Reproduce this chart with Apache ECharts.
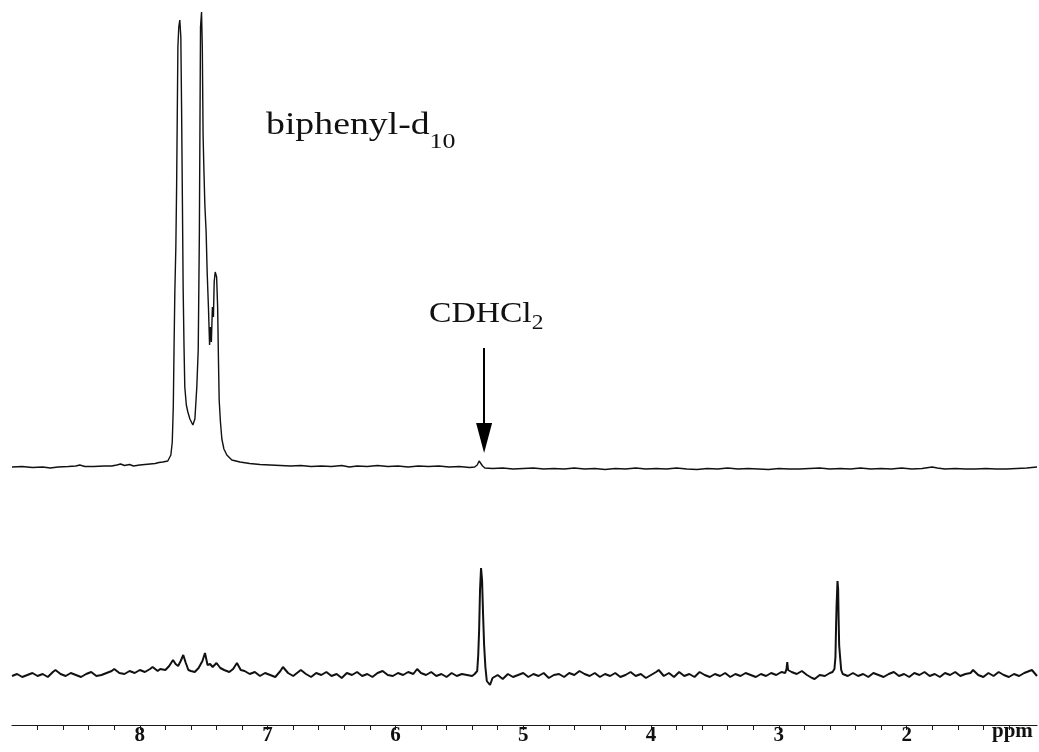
<!DOCTYPE html>
<html>
<head>
<meta charset="utf-8">
<script src="https://cdn.jsdelivr.net/npm/echarts@6/dist/echarts.min.js"></script>
<style>
  html, body { margin: 0; padding: 0; background: #fff; }
  #chart { width: 1039px; height: 752px; }
</style>
</head>
<body>
<div id="chart"></div>
<script>
// 1H NMR traces: chemical shift (ppm) and relative intensity above each baseline.

// Upper trace: biphenyl-d10 in CD2Cl2
const upperTrace = [
  [9.00, 0], [8.92, 0.5], [8.84, -0.5], [8.76, 0], [8.70, -1], [8.64, 0], [8.56, 0.5],
  [8.50, 1], [8.47, 2], [8.43, 0.5], [8.36, 0.5], [8.28, 1], [8.22, 1], [8.18, 2],
  [8.15, 3], [8.12, 1.5], [8.08, 2.5], [8.05, 1], [8.00, 2], [7.96, 2.5], [7.92, 3],
  [7.88, 3.5], [7.85, 4.5], [7.82, 5], [7.781, 6], [7.757, 12], [7.746, 25],
  [7.738, 60], [7.732, 120], [7.726, 174], [7.718, 220], [7.712, 280], [7.707, 350],
  [7.702, 420], [7.695, 440], [7.687, 447], [7.679, 430], [7.673, 357], [7.667, 270],
  [7.661, 180], [7.654, 120], [7.648, 80], [7.636, 62], [7.624, 55], [7.608, 48],
  [7.585, 42], [7.569, 48], [7.561, 50], [7.554, 80], [7.543, 117], [7.538, 180],
  [7.534, 233], [7.529, 350], [7.525, 440], [7.517, 455], [7.511, 420], [7.505, 333],
  [7.499, 300], [7.491, 262], [7.481, 235], [7.473, 195], [7.463, 160], [7.454, 122],
  [7.448, 140], [7.440, 125], [7.432, 160], [7.424, 150], [7.418, 185], [7.410, 195],
  [7.399, 190], [7.391, 160], [7.385, 110], [7.379, 67], [7.369, 45], [7.358, 28],
  [7.342, 18], [7.319, 12], [7.280, 7], [7.217, 5], [7.14, 3.5], [7.06, 2.5],
  [6.98, 2], [6.90, 1.5], [6.82, 1], [6.74, 1.5], [6.66, 0.5], [6.58, 1], [6.50, 0.5],
  [6.42, 1.5], [6.36, 0], [6.30, 1], [6.22, 0.5], [6.14, 1.5], [6.06, 0.5], [5.98, 1],
  [5.90, 0], [5.82, 1], [5.74, 0.5], [5.66, 1], [5.58, 0], [5.50, 0.5], [5.42, -0.5],
  [5.38, 0], [5.36, 2], [5.345, 6], [5.338, 8], [5.330, 6], [5.318, 1], [5.30, -1],
  [5.24, -1.5], [5.16, -1], [5.08, -2], [5.00, -1.5], [4.92, -1], [4.84, -2],
  [4.76, -1.5], [4.68, -2], [4.60, -1], [4.52, -2], [4.44, -1.5], [4.36, -2.5],
  [4.28, -1.5], [4.20, -2], [4.12, -1], [4.04, -2], [3.96, -1.5], [3.88, -2],
  [3.80, -1], [3.72, -2], [3.64, -2.5], [3.56, -1.5], [3.48, -2], [3.40, -1],
  [3.32, -2], [3.24, -1.5], [3.16, -2], [3.08, -2.5], [3.00, -1.5], [2.92, -2],
  [2.84, -2], [2.76, -1.5], [2.68, -1], [2.60, -2], [2.52, -1.5], [2.44, -2],
  [2.36, -1], [2.28, -2], [2.20, -1.5], [2.12, -2], [2.04, -1], [1.96, -2],
  [1.88, -1.5], [1.80, 0], [1.76, -1], [1.70, -2], [1.62, -1.5], [1.54, -2],
  [1.46, -2], [1.38, -1.5], [1.30, -2], [1.22, -2], [1.14, -1.5], [1.06, -1], [0.98, 0]
];

// Lower trace
const lowerTrace = [
  [9.00, -1], [8.96, 1], [8.92, -2], [8.88, 0], [8.84, 2], [8.80, -1], [8.76, 1],
  [8.72, -2], [8.68, 3], [8.66, 5], [8.62, 1], [8.58, -1], [8.54, 2], [8.50, 0],
  [8.46, -2], [8.42, 1], [8.38, 3], [8.34, -1], [8.30, 0], [8.26, 2], [8.22, 4],
  [8.20, 6], [8.16, 2], [8.12, 1], [8.08, 4], [8.04, 2], [8.00, 5], [7.96, 3],
  [7.92, 6], [7.90, 8], [7.86, 4], [7.84, 6], [7.80, 5], [7.77, 9], [7.74, 15],
  [7.72, 11], [7.70, 9], [7.68, 14], [7.66, 20], [7.64, 12], [7.62, 5], [7.60, 4],
  [7.57, 3], [7.54, 7], [7.51, 14], [7.49, 22], [7.47, 10], [7.45, 11], [7.43, 8],
  [7.40, 12], [7.37, 7], [7.34, 5], [7.30, 3], [7.27, 6], [7.24, 12], [7.21, 5],
  [7.18, 4], [7.14, 1], [7.10, 3], [7.06, -1], [7.02, 2], [6.98, 0], [6.94, -2],
  [6.90, 4], [6.88, 8], [6.84, 2], [6.80, -1], [6.76, 3], [6.74, 5], [6.70, 1],
  [6.66, -2], [6.62, 2], [6.58, 0], [6.54, 3], [6.50, -1], [6.46, 1], [6.42, -3],
  [6.38, 2], [6.34, 0], [6.30, 3], [6.26, -1], [6.22, 1], [6.18, -2], [6.14, 2],
  [6.10, 4], [6.06, 0], [6.02, -1], [5.98, 2], [5.94, 0], [5.90, 3], [5.86, 1],
  [5.83, 6], [5.80, 2], [5.76, 0], [5.72, 3], [5.68, -1], [5.64, 1], [5.60, -2],
  [5.56, 2], [5.52, -1], [5.48, 1], [5.44, 0], [5.40, -1], [5.38, 1], [5.36, 4],
  [5.352, 20], [5.345, 45], [5.338, 85], [5.330, 107], [5.322, 95], [5.314, 60],
  [5.306, 30], [5.296, 8], [5.285, -6], [5.26, -10], [5.24, -3], [5.20, 0],
  [5.16, -4], [5.12, 1], [5.08, -2], [5.04, 0], [5.00, 2], [4.96, -2], [4.92, 1],
  [4.88, -1], [4.84, 2], [4.80, -3], [4.76, 0], [4.72, 1], [4.68, -2], [4.64, 2],
  [4.60, 0], [4.56, 4], [4.52, 1], [4.48, -1], [4.44, 2], [4.40, -2], [4.36, 1],
  [4.32, -1], [4.28, 2], [4.24, -2], [4.20, 0], [4.16, 3], [4.12, -1], [4.08, 1],
  [4.04, -3], [4.00, 0], [3.96, 3], [3.94, 5], [3.90, -1], [3.86, 2], [3.82, -2],
  [3.78, 3], [3.74, -1], [3.70, 1], [3.66, -2], [3.62, 3], [3.58, 0], [3.54, -2],
  [3.50, 1], [3.46, -1], [3.42, 2], [3.38, -2], [3.34, 1], [3.30, -1], [3.26, 2],
  [3.22, 0], [3.18, -2], [3.14, 1], [3.10, -1], [3.06, 2], [3.02, 0], [2.98, 3],
  [2.950, 2], [2.940, 6], [2.934, 13], [2.928, 5], [2.90, 3], [2.86, 1], [2.82, 4],
  [2.78, 0], [2.74, -3], [2.72, -4], [2.68, 0], [2.64, -1], [2.60, 2], [2.58, 3],
  [2.565, 6], [2.557, 18], [2.552, 50], [2.548, 70], [2.545, 80], [2.541, 94],
  [2.536, 86], [2.532, 55], [2.528, 30], [2.522, 20], [2.512, 5], [2.50, 1],
  [2.46, -1], [2.42, 2], [2.38, -1], [2.34, 1], [2.30, -2], [2.26, 2], [2.22, 0],
  [2.18, -2], [2.14, 1], [2.10, 3], [2.06, -1], [2.02, 1], [1.98, -2], [1.94, 2],
  [1.90, 0], [1.86, 3], [1.82, -1], [1.78, 1], [1.74, -2], [1.70, 2], [1.66, 0],
  [1.62, 3], [1.58, -1], [1.54, 1], [1.50, 2], [1.48, 5], [1.44, 0], [1.40, -2],
  [1.36, 2], [1.32, -1], [1.28, 3], [1.24, 0], [1.20, -2], [1.16, 1], [1.12, -1],
  [1.08, 2], [1.04, 4], [1.02, 5], [0.98, -1]
];

// Axis ticks and labels (ppm)
const majorTicks = [2, 3, 4, 5, 6, 7, 8];
const minorTicks = [1.2, 1.4, 1.6, 1.8, 2.0, 2.2, 2.4, 2.6, 2.8, 3.0, 3.2, 3.4, 3.6, 3.8,
  4.0, 4.2, 4.4, 4.6, 4.8, 5.0, 5.2, 5.4, 5.6, 5.8, 6.0, 6.2, 6.4, 6.6, 6.8, 7.0,
  7.2, 7.4, 7.6, 7.8, 8.0, 8.2, 8.4, 8.6, 8.8];

// Solvent residual peak marked by the arrow: shift, arrow tail and head heights
const cdhcl2Shift = 5.306;
const arrowTail = 119;
const arrowHead = 29;

const ppmMin = 0.98;
const ppmMax = 9.0;

const chart = echarts.init(document.getElementById('chart'));

const serif = '"Liberation Serif", "DejaVu Serif", serif';

chart.setOption({
  animation: false,
  backgroundColor: '#ffffff',
  grid: [
    { left: 12, right: 2, top: 0, height: 480 },
    { left: 12, right: 2, top: 500, bottom: 27 }
  ],
  xAxis: [
    {
      type: 'value', gridIndex: 0, min: ppmMin, max: ppmMax, inverse: true, show: false
    },
    {
      type: 'value', gridIndex: 1, min: ppmMin, max: ppmMax, inverse: true,
      axisLine: { show: true, onZero: false, lineStyle: { color: '#1a1a1a', width: 1.2 } },
      axisTick: {
        show: true, inside: false, length: 5, customValues: minorTicks,
        lineStyle: { color: '#1a1a1a', width: 1 }
      },
      axisLabel: {
        show: true, customValues: majorTicks, margin: 0,
        fontFamily: serif, fontWeight: 'bold', fontSize: 21, color: '#111'
      },
      splitLine: { show: false }
    }
  ],
  yAxis: [
    { type: 'value', gridIndex: 0, min: -13, max: 467, show: false },
    { type: 'value', gridIndex: 1, min: -50, max: 175, show: false }
  ],
  series: [
    {
      type: 'line', xAxisIndex: 0, yAxisIndex: 0, data: upperTrace,
      showSymbol: false, symbol: 'none', clip: false,
      lineStyle: { color: '#111', width: 1.4 },
      markLine: {
        silent: true,
        symbol: ['none', 'triangle'],
        symbolSize: [16, 30],
        label: { show: false },
        lineStyle: { color: '#000', width: 2, type: 'solid' },
        data: [[
          { coord: [cdhcl2Shift, arrowTail] },
          { coord: [cdhcl2Shift, arrowHead] }
        ]]
      }
    },
    {
      type: 'line', xAxisIndex: 1, yAxisIndex: 1, data: lowerTrace,
      showSymbol: false, symbol: 'none', clip: false,
      lineStyle: { color: '#111', width: 2 }
    }
  ],
  graphic: [
    {
      type: 'text', left: 266, top: 110, scaleX: 1.18,
      style: {
        text: '{m|biphenyl-d}{s|10}',
        fill: '#111',
        rich: {
          m: { fontFamily: serif, fontSize: 32, lineHeight: 54, fill: '#111' },
          s: { fontFamily: serif, fontSize: 22, lineHeight: 22, verticalAlign: 'bottom', fill: '#111' }
        }
      }
    },
    {
      type: 'text', left: 429, top: 299, scaleX: 1.12,
      style: {
        text: '{m|CDHCl}{s|2}',
        fill: '#111',
        rich: {
          m: { fontFamily: serif, fontSize: 30, lineHeight: 40, fill: '#111' },
          s: { fontFamily: serif, fontSize: 21, lineHeight: 21, verticalAlign: 'bottom', fill: '#111' }
        }
      }
    },
    {
      type: 'text', left: 992, top: 721,
      style: {
        text: 'ppm', fill: '#111',
        font: 'bold 21px ' + serif
      }
    }
  ]
});
</script>
</body>
</html>
